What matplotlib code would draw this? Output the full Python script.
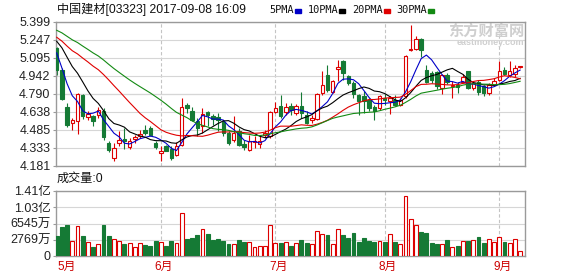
import matplotlib
matplotlib.use('Agg')
import matplotlib.pyplot as plt
import numpy as np
import pandas as pd

# daily candles, 2017-05-02 .. 2017-09-08 (HKD)
opens = [5.179, 4.996, 4.677, 4.542, 4.559, 4.784, 4.593, 4.607, 4.610, 4.649,
         4.375, 4.249, 4.375, 4.412, 4.339, 4.412, 4.432, 4.488, 4.502, 4.375,
         4.288, 4.347, 4.327, 4.271, 4.361, 4.694, 4.643, 4.559, 4.517, 4.635,
         4.601, 4.593, 4.550, 4.460, 4.404, 4.474, 4.367, 4.319, 4.384, 4.367,
         4.440, 4.432, 4.635, 4.686, 4.638, 4.686, 4.629, 4.686, 4.615, 4.570,
         4.581, 4.798, 4.948, 4.807, 5.004, 5.066, 4.939, 4.883, 4.779, 4.770,
         4.742, 4.677, 4.672, 4.756, 4.734, 4.742, 4.700, 4.770, 5.159, 5.173,
         5.258, 4.996, 4.968, 4.976, 4.841, 4.948, 4.855, 4.869, 4.891, 4.982,
         4.841, 4.891, 4.855, 4.798, 4.869, 4.911, 4.996, 4.948, 4.959, 5.015]
highs = [5.185, 5.010, 4.710, 4.587, 4.800, 4.790, 4.643, 4.615, 4.677, 4.672,
         4.390, 4.375, 4.474, 4.502, 4.418, 4.446, 4.488, 4.525, 4.517, 4.390,
         4.347, 4.361, 4.347, 4.384, 4.756, 4.714, 4.677, 4.587, 4.672, 4.649,
         4.621, 4.629, 4.573, 4.474, 4.601, 4.502, 4.404, 4.446, 4.432, 4.446,
         4.488, 4.643, 4.719, 4.779, 4.714, 4.714, 4.705, 4.807, 4.643, 4.615,
         4.798, 4.982, 5.038, 4.911, 5.080, 5.080, 4.953, 4.897, 4.790, 4.818,
         4.756, 4.694, 4.784, 4.790, 4.770, 4.784, 4.756, 5.117, 5.376, 5.278,
         5.264, 5.038, 4.987, 4.987, 4.959, 4.968, 4.897, 4.891, 4.959, 4.987,
         4.903, 4.911, 4.869, 4.883, 4.925, 5.066, 5.015, 5.072, 5.038, 5.030]
lows = [4.950, 4.740, 4.510, 4.483, 4.450, 4.580, 4.573, 4.522, 4.587, 4.404,
        4.300, 4.221, 4.347, 4.327, 4.327, 4.375, 4.418, 4.446, 4.432, 4.327,
        4.226, 4.305, 4.235, 4.263, 4.347, 4.629, 4.564, 4.432, 4.460, 4.517,
        4.525, 4.474, 4.432, 4.361, 4.384, 4.347, 4.319, 4.311, 4.333, 4.333,
        4.418, 4.418, 4.629, 4.587, 4.615, 4.615, 4.610, 4.587, 4.536, 4.545,
        4.573, 4.784, 4.807, 4.798, 4.897, 4.911, 4.869, 4.756, 4.615, 4.629,
        4.643, 4.573, 4.657, 4.700, 4.621, 4.686, 4.686, 4.756, 5.151, 5.165,
        5.100, 4.883, 4.883, 4.835, 4.790, 4.875, 4.756, 4.798, 4.883, 4.835,
        4.827, 4.779, 4.770, 4.779, 4.855, 4.897, 4.948, 4.931, 4.931, 5.010]
closes = [4.996, 4.748, 4.531, 4.570, 4.790, 4.600, 4.621, 4.559, 4.658, 4.423,
          4.319, 4.333, 4.404, 4.390, 4.390, 4.423, 4.452, 4.460, 4.446, 4.339,
          4.311, 4.311, 4.249, 4.347, 4.677, 4.672, 4.573, 4.502, 4.621, 4.615,
          4.579, 4.573, 4.460, 4.375, 4.460, 4.361, 4.339, 4.389, 4.395, 4.395,
          4.460, 4.635, 4.672, 4.607, 4.677, 4.657, 4.686, 4.629, 4.545, 4.587,
          4.790, 4.869, 4.827, 4.897, 5.015, 4.968, 4.883, 4.790, 4.728, 4.728,
          4.672, 4.643, 4.770, 4.739, 4.756, 4.694, 4.742, 5.109, 5.173, 5.258,
          5.165, 4.891, 4.911, 4.855, 4.948, 4.891, 4.869, 4.846, 4.931, 4.841,
          4.883, 4.807, 4.798, 4.869, 4.903, 4.987, 4.959, 4.982, 5.010, 5.024]
# closes before May 2 (not drawn), estimated from where the MA lines start
prev_closes = [5.40, 5.42, 5.45, 5.48, 5.50, 5.47, 5.45, 5.44, 5.43, 5.43,
               5.40, 5.38, 5.35, 5.33, 5.30, 5.28, 5.27, 5.26, 5.24, 5.23,
               5.30, 5.33, 5.36, 5.35, 5.335, 5.38, 5.20, 5.08, 5.03]
# volume in 10k shares
volumes = [4337, 6289, 6723, 3253, 6506, 4337, 2964, 1952, 2530, 6723,
           4337, 3687, 3181, 2602, 2747, 1952, 2747, 2386, 2169, 3253,
           3036, 2169, 3253, 2747, 9253, 3687, 3904, 4554, 5855, 4771,
           3470, 3687, 3253, 2602, 2602, 3470, 3036, 3036, 1952, 2169,
           2169, 6723, 2747, 2819, 2964, 2169, 2747, 3470, 2819, 2602,
           5422, 4771, 4554, 2602, 5855, 4554, 3904, 4988, 3036, 3904,
           3253, 3036, 3253, 3036, 4771, 3036, 2530, 12940, 8024, 6723,
           5205, 4988, 2819, 2602, 2602, 3470, 1952, 2169, 3253, 3253,
           3470, 4120, 2819, 3687, 3036, 4120, 3036, 2819, 3687, 1084]

price_tick_labels = ['4.181', '4.333', '4.485', '4.638', '4.790', '4.942', '5.095', '5.247', '5.399']
vol_tick_labels = ['0', '2769万', '6545万', '1.03亿', '1.41亿']
month_idx = [0, 20, 42, 63, 85]
month_labels = ['5月', '6月', '7月', '8月', '9月']
ma_windows = [5, 10, 20, 30]
ma_names = ['5PMA', '10PMA', '20PMA', '30PMA']
ma_colors = ['#0000c8', '#000000', '#e00000', '#138a13']

RED = '#dd0000'
GREEN = '#157a35'
GRID = '#d6d6d6'
FRAME = '#9a9a9a'
CJK = ['Liberation Sans', 'Noto Sans CJK SC']
W, H = 578, 276

fig = plt.figure(figsize=(W/100, H/100), dpi=100)
ax = fig.add_axes([56/W, 110/H, 469/W, 144/H])
axv = fig.add_axes([56/W, 20/H, 469/W, 65/H])

o = np.array(opens)
h = np.array(highs)
l = np.array(lows)
c = np.array(closes)
x = np.arange(len(c))
up = c >= o
edge = np.where(up, RED, GREEN)
face = np.where(up, '#ffffff', GREEN)

# moving averages
allc = pd.Series(prev_closes + closes)
for n, col in zip(ma_windows, ma_colors):
    ma = allc.rolling(n).mean().to_numpy()[len(prev_closes):]
    ax.plot(x, ma, color=col, lw=0.8, zorder=4)

# candles
ax.vlines(x, l, h, color=edge, lw=0.8, zorder=2)
body = np.maximum(np.abs(c - o), 0.004)
ax.bar(x, body, bottom=np.minimum(o, c), width=0.66, color=face,
       edgecolor=edge, lw=0.8, zorder=3)

ymin, ymax = 4.181, 5.399
ax.set_ylim(ymin, ymax)
ax.set_xlim(-0.13, 89.94)
ax.set_yticks(np.linspace(ymin, ymax, 9))
ax.set_yticklabels(price_tick_labels)
ax.set_xticks([])
ax.grid(axis='y', color=GRID, lw=0.8, zorder=0)
ax.axhline(4.790, color='#a8a8a8', lw=0.8, zorder=1)

# volume bars
axv.bar(x, volumes, width=0.74, color=face, edgecolor=edge, lw=0.8, zorder=3)
axv.set_ylim(0, 14097)
axv.set_xlim(-0.13, 89.94)
axv.set_yticks(np.linspace(0, 14097, 5))
axv.set_yticklabels(vol_tick_labels)
axv.set_xticks([])
axv.grid(axis='y', color=GRID, lw=0.8, zorder=0)

for a in (ax, axv):
    for m in month_idx[1:]:
        a.axvline(m, color='#c4c4c4', lw=0.8, ls=(0, (3, 2)), zorder=1)
    for s in a.spines.values():
        s.set_color(FRAME)
        s.set_linewidth(1.0)
    a.tick_params(axis='y', length=2, width=0.8, color=FRAME, pad=2,
                  labelsize=9, labelcolor='#222222')
    for t in a.get_yticklabels():
        t.set_family(CJK)

# month labels under the volume panel
for i, (m, lab) in enumerate(zip(month_idx, month_labels)):
    xm = 2.0 if i == 0 else m + 0.6
    axv.text(xm, -0.17, lab, transform=axv.get_xaxis_transform(), ha='center',
             va='center', fontsize=8.5, color='#cc0000', family=CJK)

# header and legend
fig.text(57/W, 1 - 10/H, '中国建材[03323] 2017-09-08 16:09', fontsize=8.7,
         va='center', ha='left', family=CJK, color='#111111')
rend = fig.canvas.get_renderer()
lx = 269
for name, col in zip(ma_names, ma_colors):
    t = fig.text(lx/W, 1 - 10/H, name, fontsize=7.4, va='center', ha='left',
                 family='DejaVu Sans Mono', color='#111111')
    x1 = t.get_window_extent(renderer=rend).x1
    fig.patches.append(plt.Rectangle(((x1 + 1)/W, 1 - 12.5/H), 6/W, 3/H,
                                     transform=fig.transFigure, color=col))
    lx = x1 + 1 + 6 + 7
fig.text(57/W, 1 - 179/H, '成交量:0', fontsize=8.7, va='center', ha='left',
         family=CJK, color='#111111')

# watermark
ax.text(0.998, 0.935, '东方财富网', transform=ax.transAxes, ha='right', va='center',
        fontsize=11, fontweight='bold', color='#cfcfcf', family=CJK, zorder=1)
ax.text(0.998, 0.86, 'eastmoney.com', transform=ax.transAxes, ha='right', va='center',
        fontsize=6.5, fontweight='bold', color='#cfcfcf', family=CJK, zorder=1)

fig.savefig('out.png', dpi=100, facecolor='white')
